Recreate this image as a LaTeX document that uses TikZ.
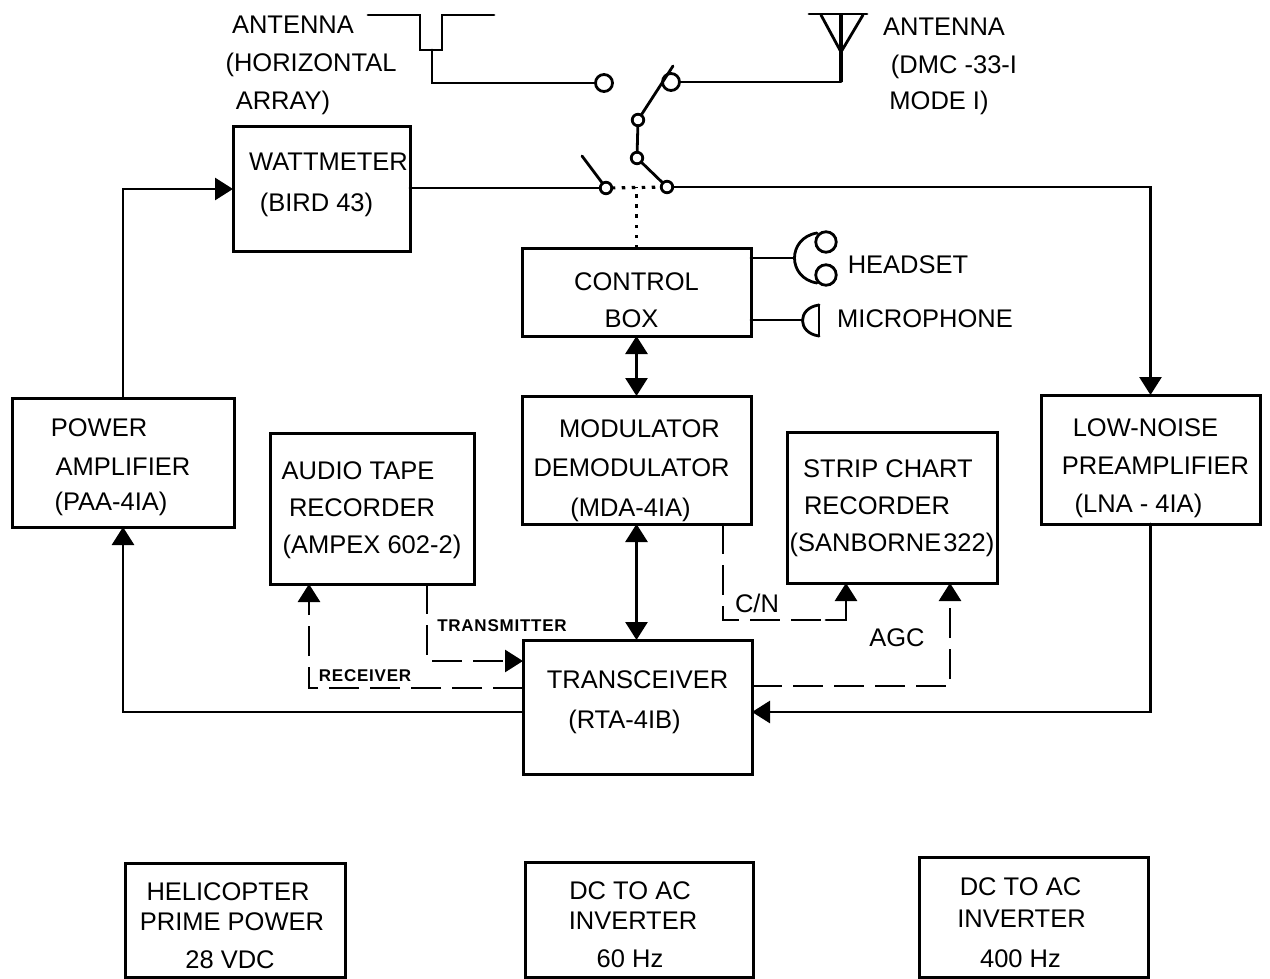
\documentclass[tikz,border=0pt]{standalone}
\usepackage{fontspec}
\setmainfont{Liberation Sans}
\newfontfamily\smallf[LetterSpace=4.5]{Liberation Sans}
\usetikzlibrary{arrows.meta,calc}
\newcommand{\dn}[1]{\rule{0pt}{#1}}
\newcommand{\up}[1]{\rule[-#1]{0pt}{0pt}}
\newcommand{\sh}[1]{\hspace*{#1}}
\tikzset{
  wire/.style={line width=2.8pt,line cap=round,line join=miter},
  bx/.style={draw,line width=3pt,inner sep=0pt,outer sep=0pt,align=center,font=\fontsize{25.5}{37}\selectfont},
  lbl/.style={inner sep=0pt,align=center,font=\fontsize{25.5}{37}\selectfont},
  small/.style={inner sep=0pt,font=\fontsize{17}{20}\smallf\bfseries},
  term/.style={circle,draw,line width=2.8pt,fill=white,inner sep=0pt,outer sep=0pt},
  big/.style={term,minimum size=17pt},
  lit/.style={term,minimum size=11.5pt},
  ear/.style={term,minimum size=20.5pt},
  head/.style={-{Triangle[length=18pt,width=22pt]}},
  both/.style={{Triangle[length=18pt,width=22pt]}-{Triangle[length=18pt,width=22pt]}},
  dsh/.style={wire,line cap=butt,dash pattern=on 30pt off 11pt},
  dots/.style={line width=3.2pt,dash pattern=on 3.5pt off 6.5pt}
}
\begin{document}
\begin{tikzpicture}[x=1pt,y=1pt]
\useasboundingbox (0,0) rectangle (1270,-979);
% boxes
\node[bx,minimum width=177pt,minimum height=124pt] (wm) at (321.5,-189) {\up{14pt}\sh{14pt}WATTMETER\\[4pt]\sh{-10pt}(BIRD 43)\up{14pt}};
\node[bx,minimum width=229pt,minimum height=88pt] (ctl) at (636.5,-292) {\dn{34pt}CONTROL\\[0pt]\sh{-10pt}BOX};
\node[bx,minimum width=222pt,minimum height=129pt] (pa) at (123,-462.5) {\dn{28pt}\sh{-48pt}POWER\\[2pt]AMPLIFIER\\[-2pt]\sh{-24pt}(PAA-4IA)};
\node[bx,minimum width=204pt,minimum height=151pt] (atr) at (372,-508.5) {\dn{22pt}\sh{-28pt}AUDIO TAPE\\\sh{-20pt}RECORDER\\(AMPEX 602-2)};
\node[bx,minimum width=229pt,minimum height=128pt] (mod) at (636.5,-460) {\dn{40pt}\sh{6pt}MODULATOR\\[2pt]\sh{-10pt}DEMODULATOR\\[3pt]\sh{-12pt}(MDA-4IA)};
\node[bx,minimum width=210pt,minimum height=151pt] (scr) at (892,-507.5) {\dn{20pt}\sh{-8pt}STRIP CHART\\\sh{-30pt}RECORDER\\(SANBORNE\hspace{2pt}322)};
\node[bx,minimum width=219pt,minimum height=129pt] (lna) at (1150.5,-459.5) {\dn{36pt}\sh{-10pt}LOW-NOISE\\[1pt]\sh{10pt}PREAMPLIFIER\\[1pt]\sh{-24pt}(LNA - 4IA)};
\node[bx,minimum width=229pt,minimum height=134pt] (tr) at (637.5,-707) {TRANSCEIVER\\[3pt]\sh{-26pt}(RTA-4IB)\up{14pt}};
\node[bx,minimum width=220pt,minimum height=114pt] (hp) at (235,-920) {\dn{30pt}\sh{-14pt}HELICOPTER\\[-7pt]\sh{-6pt}PRIME POWER\\[1pt]\sh{-10pt}28 VDC};
\node[bx,minimum width=228pt,minimum height=115pt] (dc) at (639,-919.5) {\dn{28pt}\sh{-18pt}DC TO AC\\[-7pt]\sh{-12pt}INVERTER\\[1pt]\sh{-18pt}60 Hz};
\node[bx,minimum width=229pt,minimum height=120pt] (dc2) at (1033.5,-917) {\dn{30pt}\sh{-26pt}DC TO AC\\[-5pt]\sh{-24pt}INVERTER\\[3pt]\sh{-26pt}400 Hz};
% free labels
\node[lbl] (l1) at (293,-25) {ANTENNA};
\node[lbl] (l2) at (311,-65) {(HORIZONTAL};
\node[lbl] (l3) at (283,-103) {ARRAY)};
\node[lbl] (l4) at (944,-27) {ANTENNA};
\node[lbl] (l5) at (954,-67) {(DMC -33-I};
\node[lbl] (l6) at (939,-103) {MODE I)};
\node[lbl] (l7) at (908,-265) {HEADSET};
\node[lbl] (l8) at (925,-319) {MICROPHONE};
\node[lbl] (l9) at (757,-603) {C/N};
\node[lbl] (l10) at (897,-638) {AGC};
\node[small] (l11) at (502,-626) {TRANSMITTER};
\node[small] (l12) at (365,-676) {RECEIVER};
% switch contacts
\node[big] (sa) at (604,-83) {};
\node[big] (sb) at (671,-82) {};
\node[lit] (sc) at (638,-120) {};
\node[lit] (sd) at (637,-158) {};
\node[lit] (se) at (606,-188) {};
\node[lit] (sf) at (667,-187) {};
\coordinate (bladeC) at (673,-66);
\coordinate (bladeE) at (582,-156);
\coordinate (tee) at (ctl.north |- sf);
\draw[wire] (sc) -- (bladeC);
\draw[wire] (se) -- (bladeE);
\draw[wire] (sc) -- (sd);
\draw[wire] (sd) -- (sf);
\draw[dots] (se) -- (sf);
\draw[dots] (ctl.north) -- (tee);
% antennas
\coordinate (feedL) at (432,-50);
\coordinate (mastB) at (841,-15);
\coordinate (mastE) at (841,-82);
\draw[wire] (368,-15) -- (420,-15) -- (420,-50) -- (442,-50) -- (442,-15) -- (494,-15);
\draw[wire] (feedL) |- (sa);
\draw[wire] (809,-14) -- (867,-14);
\draw[wire] (821,-15) -- (841,-52) -- (863,-15);
\draw[line width=3.8pt] (mastB) -- (mastE);
\draw[wire] (mastE) -- (sb);
% main signal path
\draw[wire,head] (pa.north) |- (wm.west);
\draw[wire] (wm.east |- se) -- (se);
\draw[wire,head] (sf) -| (lna.north);
\coordinate (trL) at (tr.west |- 0,-712);
\coordinate (trR) at (tr.east |- 0,-712);
\draw[wire,head] (trL) -| (pa.south);
\draw[wire,head] (lna.south) |- (trR);
\draw[wire,both] (ctl.south) -- (mod.north);
\draw[wire,both] (mod.south) -- (mod.south |- tr.north);
% dashed lines
\coordinate (rxB) at (309,-584);
\coordinate (rxR) at (tr.west |- 0,-688);
\draw[dsh,head] (rxR) -| (rxB);
\coordinate (txT) at (427,-584);
\coordinate (txR) at (tr.west |- 0,-661);
\draw[dsh,head] (txT) |- (txR);
\coordinate (cnT) at (723,-524);
\coordinate (cnB) at (846,-583);
\draw[dsh] (cnT) -- (723,-620) -- (826,-620);
\draw[wire,head] (826,-620) -| (cnB);
\coordinate (agcL) at (tr.east |- 0,-686);
\coordinate (agcB) at (950,-583);
\draw[dsh,head] (agcL) -| (agcB);
% headset
\coordinate (hsStem) at (794,-258);
\coordinate (micStem) at (803,-320);
\draw[wire] (ctl.east |- hsStem) -- (hsStem);
\draw[wire] (817,-233) .. controls (787,-238) and (787,-278) .. (817,-283);
\node[ear] (earA) at (826,-242) {};
\node[ear] (earB) at (826,-275) {};
\draw[wire] (ctl.east |- micStem) -- (micStem);
\draw[wire] (819,-305) -- (819,-336);
\draw[wire] (819,-305) .. controls (797,-308) and (797,-333) .. (819,-336);
\end{tikzpicture}
\end{document}
